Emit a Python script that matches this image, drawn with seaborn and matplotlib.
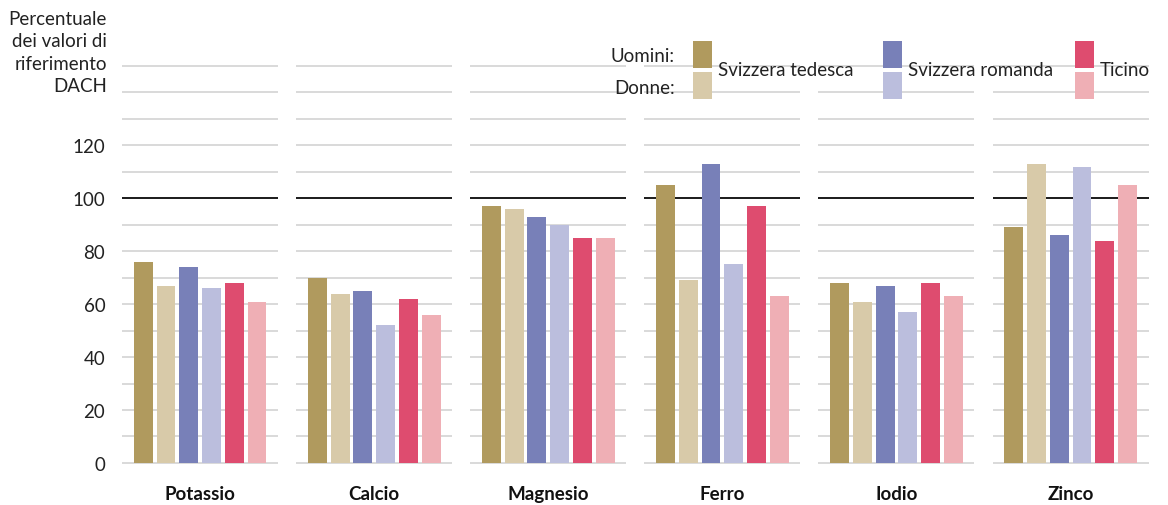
import pandas as pd
import seaborn as sns
import matplotlib.pyplot as plt
from matplotlib.patches import Rectangle

# Data
minerals = ["Potassio", "Calcio", "Magnesio", "Ferro", "Iodio", "Zinco"]
groups = ["DS_M", "DS_F", "FR_M", "FR_F", "TI_M", "TI_F"]
potassio = [76, 67, 74, 66, 68, 61]
calcio = [70, 64, 65, 52, 62, 56]
magnesio = [97, 96, 93, 90, 85, 85]
ferro = [105, 69, 113, 75, 97, 63]
iodio = [68, 61, 67, 57, 68, 63]
zinco = [89, 113, 86, 112, 84, 105]
region_labels = ["Svizzera tedesca", "Svizzera romanda", "Ticino"]
palette = ["#b09a5e", "#d8caa9", "#7880b8", "#bbbedd", "#de4c6f", "#efafb5"]

values = [potassio, calcio, magnesio, ferro, iodio, zinco]
df = pd.DataFrame([
    {"minerale": m, "gruppo": g, "valore": v}
    for m, vals in zip(minerals, values)
    for g, v in zip(groups, vals)
])

sns.set_style("white")
plt.rcParams["font.family"] = ["Lato", "DejaVu Sans"]
FS = 13.5
TXT = "#222222"

W, H = 1168, 506
fig = plt.figure(figsize=(W / 100, H / 100), dpi=100)


def fx(x):
    return x / W


def fy(y):
    return 1 - y / H


y_bot, y_top = 466.6, 64.3
for i, m in enumerate(minerals):
    left = 122 + 174.1 * i
    ax = fig.add_axes([fx(left), fy(y_bot), 156 / W, (y_bot - y_top) / H])
    sub = df[df["minerale"] == m]
    sns.barplot(data=sub, x="gruppo", y="valore", hue="gruppo", order=groups,
                hue_order=groups, palette=palette, width=0.83, legend=False,
                saturation=1, linewidth=0, edgecolor="none", ax=ax, zorder=3)
    for v in range(0, 151, 10):
        ax.axhline(v, color="#1a1a1a" if v == 100 else "#d9d9d9",
                   lw=1.4, zorder=1)
    ax.set_ylim(-1, 151)
    ax.set_xlim(-0.93, 5.92)
    ax.set_xlabel("")
    ax.set_ylabel("")
    ax.set_xticks([])
    sns.despine(ax=ax, left=True, bottom=True)
    ax.tick_params(axis="y", length=0, pad=12, labelsize=FS, colors=TXT)
    if i == 0:
        ax.set_yticks(range(0, 121, 20))
    else:
        ax.set_yticks([])
    fig.text(fx(left + 78), fy(495), m, ha="center", va="center",
             fontsize=FS, fontweight="bold", color="#111111")

# y axis title
fig.text(fx(107), fy(11), "Percentuale\ndei valori di\nriferimento\nDACH",
         ha="right", va="top", multialignment="right", fontsize=FS,
         linespacing=1.38, color=TXT)

# legend
fig.text(fx(675), fy(56), "Uomini:", ha="right", va="center", fontsize=FS,
         color=TXT)
fig.text(fx(675), fy(89), "Donne:", ha="right", va="center", fontsize=FS,
         color=TXT)
for j, (x0, lab) in enumerate(zip([693, 883, 1075], region_labels)):
    for k, (y0, y1) in enumerate([(42, 68.5), (72.5, 100)]):
        fig.add_artist(Rectangle((fx(x0), fy(y1)), 19 / W, (y1 - y0) / H,
                                 transform=fig.transFigure,
                                 color=palette[2 * j + k], lw=0))
    fig.text(fx(x0 + 25), fy(71), lab, ha="left", va="center", fontsize=FS,
             color=TXT)

fig.savefig("out.png", dpi=100)
